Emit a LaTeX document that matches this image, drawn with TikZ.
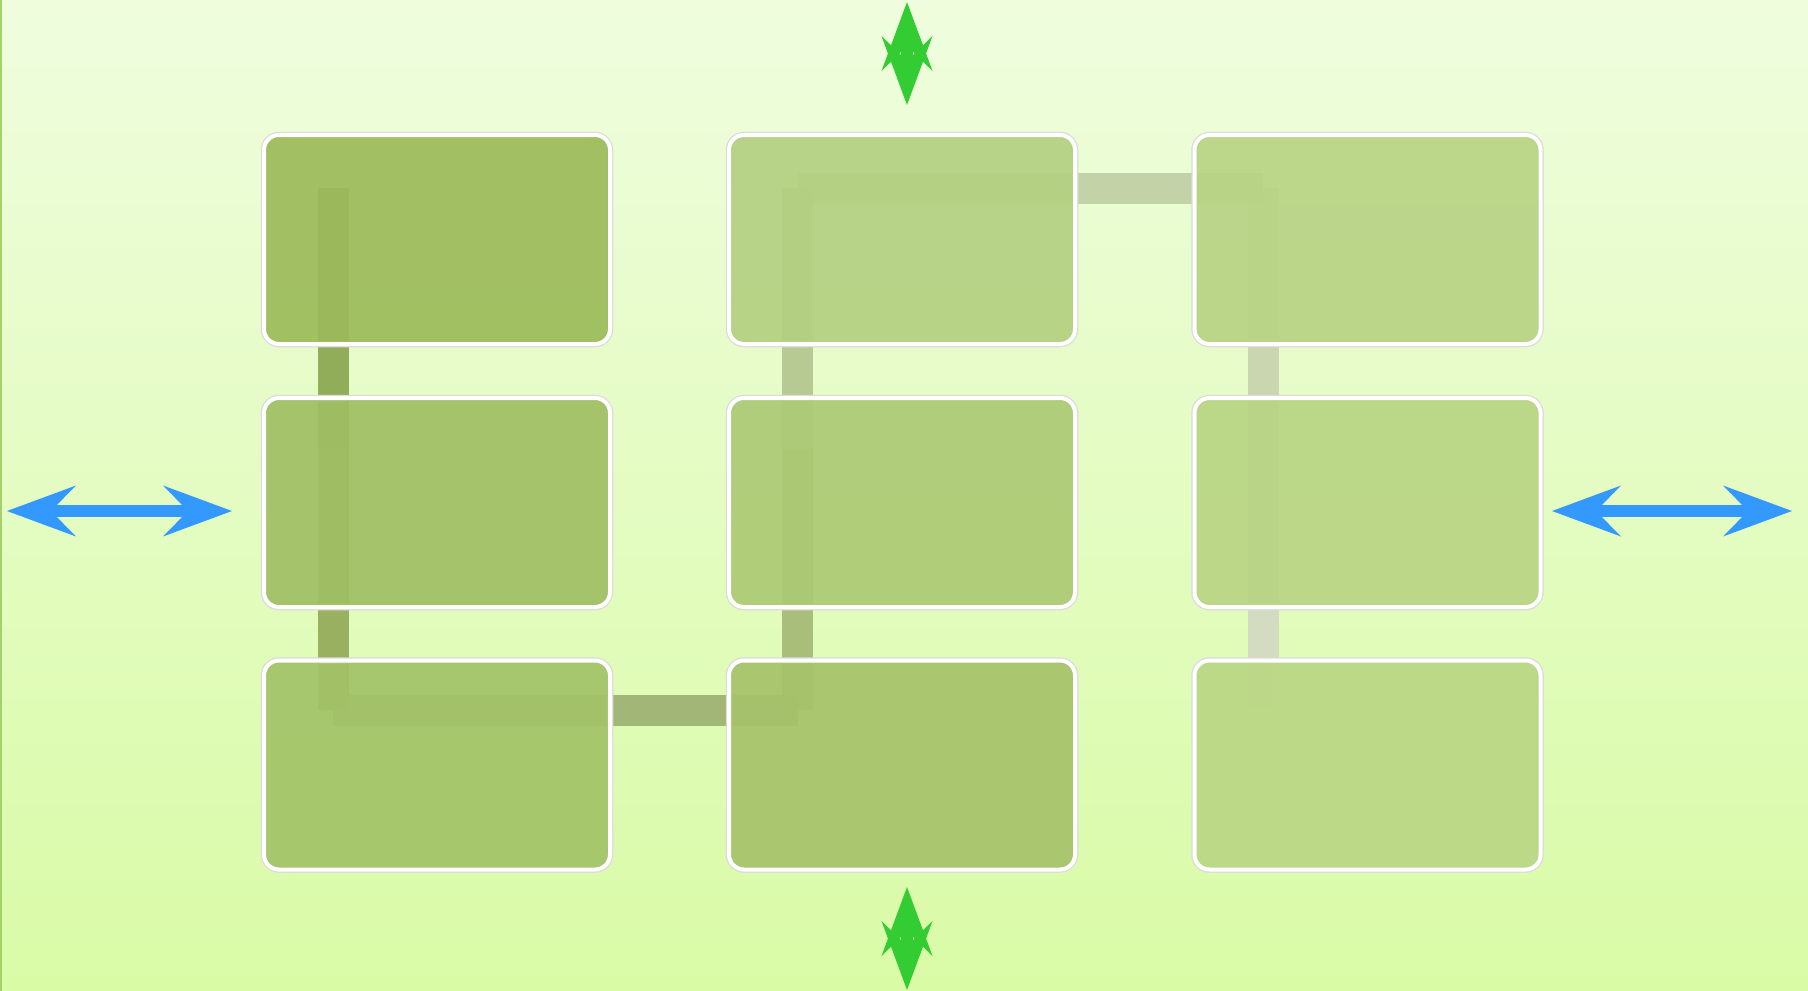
\documentclass[tikz,border=0pt]{standalone}
\usetikzlibrary{arrows.meta}
\definecolor{bgtop}{HTML}{EFFDDE}
\definecolor{bgbot}{HTML}{D9FBA6}
\definecolor{edgeline}{HTML}{A6D06A}
\definecolor{arrblue}{HTML}{3399FF}
\definecolor{arrgreen}{HTML}{33CC33}
\definecolor{boxa}{HTML}{9CBB5A}
\definecolor{boxb}{HTML}{A0BF64}
\definecolor{boxc}{HTML}{A3C368}
\definecolor{boxd}{HTML}{B3D081}
\definecolor{boxe}{HTML}{ACCA75}
\definecolor{boxf}{HTML}{A6C36A}
\definecolor{boxg}{HTML}{B8D384}
\definecolor{boxh}{HTML}{B8D483}
\definecolor{boxi}{HTML}{B9D783}
\definecolor{sega}{HTML}{7C9A3F}
\definecolor{segb}{HTML}{879D4B}
\definecolor{segc}{HTML}{93A568}
\definecolor{segd}{HTML}{9AAF6A}
\definecolor{sege}{HTML}{ADBE87}
\definecolor{segf}{HTML}{B9C89D}
\definecolor{segg}{HTML}{C3CDA9}
\definecolor{segh}{HTML}{D0D4C2}
\tikzset{
  panel/.style={rectangle, rounded corners=15pt,
    minimum width=346pt, minimum height=209pt, inner sep=0pt,
    preaction={draw=black!14, line width=6.5pt},
    draw=white, line width=4pt, fill=#1, fill opacity=0.92},
  linkseg/.style={line width=31pt, line cap=butt, draw=#1, draw opacity=0.8},
  dblarrow/.style={line width=12pt, draw=#1, fill=#1,
    {Stealth[length=69pt,width=51pt,inset=25pt,line width=0pt]}-{Stealth[length=69pt,width=51pt,inset=25pt,line width=0pt]}}
}
\begin{document}
\begin{tikzpicture}[x=1pt,y=-1pt]
\useasboundingbox (0,0) rectangle (1808,991);
\shade[top color=bgtop, bottom color=bgbot] (0,0) rectangle (1808,991);
\draw[edgeline, line width=1.5pt] (0.75,0) -- (0.75,991);

% connector path points
\coordinate (p1) at (333,188);
\coordinate (p2) at (333,449);
\coordinate (p3) at (333,710);
\coordinate (p4) at (797.5,710);
\coordinate (p5) at (797.5,449);
\coordinate (p6) at (797.5,188);
\coordinate (p7) at (1263,188);
\coordinate (p8) at (1263,449);
\coordinate (p9) at (1263,710);

\draw[linkseg=sega] (p1) -- (p2);
\draw[linkseg=segb] (p2) -- (p3);
\draw[linkseg=segc] (p3) -- (p4);
\draw[linkseg=segd] (p4) -- (p5);
\draw[linkseg=sege] (p5) -- (p6);
\draw[linkseg=segf] (p6) -- (p7);
\draw[linkseg=segg] (p7) -- (p8);
\draw[linkseg=segh] (p8) -- (p9);

% panels
\node[panel=boxa] (b11) at (437,239.5) {};
\node[panel=boxb] (b12) at (437,502.5) {};
\node[panel=boxc] (b13) at (437,765) {};
\node[panel=boxd] (b21) at (902,239.5) {};
\node[panel=boxe] (b22) at (902,502.5) {};
\node[panel=boxf] (b23) at (902,765) {};
\node[panel=boxg] (b31) at (1367.5,239.5) {};
\node[panel=boxh] (b32) at (1367.5,502.5) {};
\node[panel=boxi] (b33) at (1367.5,765) {};

% arrows
\coordinate (la1) at (7,511);
\coordinate (la2) at (232,511);
\coordinate (ra1) at (1552,511);
\coordinate (ra2) at (1792,511);
\coordinate (ta1) at (907,2);
\coordinate (ta2) at (907,105);
\coordinate (ba1) at (907,887);
\coordinate (ba2) at (907,990);
\draw[dblarrow=arrblue] (la1) -- (la2);
\draw[dblarrow=arrblue] (ra1) -- (ra2);
\draw[dblarrow=arrgreen] (ta1) -- (ta2);
\draw[dblarrow=arrgreen] (ba1) -- (ba2);
\end{tikzpicture}
\end{document}
